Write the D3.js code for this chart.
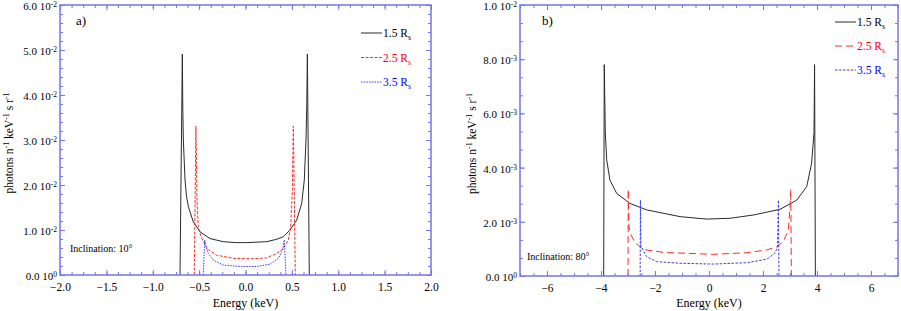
<!DOCTYPE html>
<html>
<head>
<meta charset="utf-8">
<script src="https://cdn.jsdelivr.net/npm/d3@7"></script>
<style>
  body { margin: 0; background: #fff; }
  text { font-family: "Liberation Serif", "DejaVu Serif", serif; }
</style>
</head>
<body>
<div id="chart"></div>
<script>
// panel a) inclination 10 deg : [energy keV, photons]
const a15 = [[-0.706, 0], [-0.681, 0.0491], [-0.676, 0.037], [-0.670, 0.030], [-0.652, 0.0211], [-0.636, 0.0175],
  [-0.616, 0.0152], [-0.563, 0.0118], [-0.491, 0.0096], [-0.383, 0.0081], [-0.239, 0.0074], [-0.100, 0.0072],
  [0.013, 0.0072], [0.228, 0.0074], [0.330, 0.0079], [0.408, 0.0085], [0.480, 0.0100], [0.552, 0.0122],
  [0.606, 0.0159], [0.634, 0.0211], [0.652, 0.030], [0.661, 0.038], [0.667, 0.0491], [0.688, 0]];
const a25 = [[-0.552, 0], [-0.535, 0.0331], [-0.522, 0.016], [-0.509, 0.0107], [-0.482, 0.0087], [-0.455, 0.0074],
  [-0.401, 0.0056], [-0.311, 0.0044], [-0.131, 0.0037], [0.049, 0.0036], [0.228, 0.0038], [0.336, 0.0048],
  [0.408, 0.0059], [0.462, 0.0078], [0.487, 0.0107], [0.505, 0.0189], [0.516, 0.0331], [0.537, 0]];
const a35 = [[-0.455, 0], [-0.440, 0.0078], [-0.425, 0.0062], [-0.401, 0.0048], [-0.347, 0.0033], [-0.239, 0.0022],
  [-0.059, 0.0019], [0.121, 0.0019], [0.264, 0.0024], [0.354, 0.0037], [0.401, 0.0056], [0.418, 0.0078], [0.437, 0]];

// panel b) inclination 80 deg
const b15 = [[-3.90, 0], [-3.88, 0.0078], [-3.84, 0.0053], [-3.79, 0.0043], [-3.67, 0.00354], [-3.42, 0.00305],
  [-2.93, 0.00268], [-2.31, 0.00244], [-1.07, 0.00219], [-0.09, 0.0021], [0.78, 0.00213], [1.64, 0.00225],
  [2.63, 0.00246], [3.25, 0.0028], [3.62, 0.0033], [3.80, 0.00416], [3.89, 0.0053], [3.91, 0.0078], [3.94, 0]];
const b25 = [[-3.00, 0], [-2.99, 0.0032], [-2.97, 0.0019], [-2.93, 0.0016], [-2.74, 0.00123], [-2.43, 0.00098],
  [-1.69, 0.00087], [0.16, 0.0008], [1.40, 0.00086], [2.14, 0.00096], [2.51, 0.00108], [2.75, 0.00127],
  [2.94, 0.0017], [3.00, 0.00256], [3.03, 0.0032], [3.05, 0]];
const b35 = [[-2.55, 0], [-2.54, 0.0028], [-2.52, 0.0011], [-2.31, 0.00071], [-1.94, 0.00053], [-1.07, 0.00047],
  [0.16, 0.00044], [1.40, 0.00049], [2.14, 0.00062], [2.44, 0.00084], [2.54, 0.00108], [2.57, 0.0028], [2.59, 0]];

const seriesNames = ["1.5 R", "2.5 R", "3.5 R"];

const aTicksX = [-2, -1.5, -1, -0.5, 0, 0.5, 1, 1.5, 2];
const aTicksY = [0, 0.01, 0.02, 0.03, 0.04, 0.05, 0.06];
const aLabelsY = [["0.0 10", "0"], ["1.0 10", "-2"], ["2.0 10", "-2"], ["3.0 10", "-2"], ["4.0 10", "-2"], ["5.0 10", "-2"], ["6.0 10", "-2"]];

const bTicksX = [-6, -4, -2, 0, 2, 4, 6];
const bTicksY = [0, 0.002, 0.004, 0.006, 0.008, 0.01];
const bLabelsY = [["0.0 10", "0"], ["2.0 10", "-3"], ["4.0 10", "-3"], ["6.0 10", "-3"], ["8.0 10", "-3"], ["1.0 10", "-2"]];

const frameColor = "#7474ee";
const serif = "'Liberation Serif', 'DejaVu Serif', serif";

const svg = d3.select("#chart").append("svg")
  .attr("width", 901)
  .attr("height", 311);

function drawPanel(p) {
  const x = d3.scaleLinear().domain(p.xDomain).range([p.left, p.right]);
  const y = d3.scaleLinear().domain(p.yDomain).range([p.bottom, p.top]);
  const g = svg.append("g");

  // curves
  const line = d3.line().x((d) => x(d[0])).y((d) => y(d[1]));
  p.series.forEach((s) => {
    g.append("path")
      .attr("d", line(s.data))
      .attr("fill", "none")
      .attr("stroke", s.color)
      .attr("stroke-width", 1)
      .attr("stroke-dasharray", s.dash);
  });

  // ticks on all 4 sides, pointing inwards
  const axes = [
    [d3.axisBottom(x), p.xTicks, p.xMinor, `translate(0,${p.bottom})`],
    [d3.axisTop(x), p.xTicks, p.xMinor, `translate(0,${p.top})`],
    [d3.axisLeft(y), p.yTicks, p.yMinor, `translate(${p.left},0)`],
    [d3.axisRight(y), p.yTicks, p.yMinor, `translate(${p.right},0)`]
  ];
  axes.forEach(([ax, major, minor, tr]) => {
    g.append("g").attr("transform", tr).attr("color", frameColor)
      .call(ax.tickValues(minor).tickSize(-3).tickSizeOuter(0).tickFormat(""))
      .call((a) => a.select(".domain").remove());
    g.append("g").attr("transform", tr).attr("color", frameColor)
      .call(ax.tickValues(major).tickSize(-5).tickSizeOuter(0).tickFormat(""))
      .call((a) => a.select(".domain").remove());
  });

  // frame
  g.append("rect")
    .attr("x", p.left).attr("y", p.top)
    .attr("width", p.right - p.left).attr("height", p.bottom - p.top)
    .attr("fill", "none")
    .attr("stroke", frameColor)
    .attr("stroke-width", 1.5);

  // x tick labels
  const xLab = g.append("g")
    .attr("transform", `translate(0,${p.bottom})`)
    .call(d3.axisBottom(x).tickValues(p.xTicks).tickSize(0).tickPadding(8).tickFormat(p.xFmt));
  xLab.select(".domain").remove();
  xLab.selectAll("text")
    .style("font-family", serif)
    .attr("font-size", 11.5)
    .attr("fill", "#000");

  // y tick labels with exponent
  const yLab = g.append("g")
    .attr("transform", `translate(${p.left},0)`)
    .call(d3.axisLeft(y).tickValues(p.yTicks).tickSize(0).tickPadding(3).tickFormat(""));
  yLab.select(".domain").remove();
  yLab.selectAll("text")
    .style("font-family", serif)
    .attr("font-size", 11)
    .attr("fill", "#000")
    .attr("dy", "0.4em")
    .each(function (d, i) {
      const t = d3.select(this);
      t.append("tspan").text(p.yLabels[i][0]);
      t.append("tspan").attr("dy", -3).attr("font-size", 7.5).text(p.yLabels[i][1]);
    });

  // axis titles
  g.append("text")
    .attr("x", (p.left + p.right) / 2)
    .attr("y", 307)
    .attr("text-anchor", "middle")
    .attr("font-size", 12)
    .text("Energy (keV)");

  const yt = g.append("text")
    .attr("transform", `translate(${p.yTitleX},${(p.top + p.bottom) / 2 + 3}) rotate(-90)`)
    .attr("text-anchor", "middle")
    .attr("font-size", 11.5);
  yt.append("tspan").text("photons n");
  yt.append("tspan").attr("dy", -4).attr("font-size", 8).text("-1");
  yt.append("tspan").attr("dy", 4).text(" keV");
  yt.append("tspan").attr("dy", -4).attr("font-size", 8).text("-1");
  yt.append("tspan").attr("dy", 4).text(" s r");
  yt.append("tspan").attr("dy", -4).attr("font-size", 8).text("-1");

  // panel label + inclination
  g.append("text")
    .attr("x", p.left + p.tagDx).attr("y", p.top + 20)
    .attr("font-size", 13)
    .text(p.tag);
  g.append("text")
    .attr("x", p.left + p.incDx).attr("y", p.incY)
    .attr("font-size", 10)
    .text(p.inclination);

  // legend
  p.series.forEach((s, i) => {
    const ly = p.legendY + i * p.legendGap;
    g.append("line")
      .attr("x1", p.legendX).attr("x2", p.legendX + 21)
      .attr("y1", ly).attr("y2", ly)
      .attr("stroke", s.color)
      .attr("stroke-dasharray", s.dash);
    const t = g.append("text")
      .attr("x", p.legendX + 22).attr("y", ly + 4)
      .attr("font-size", 11.5)
      .attr("fill", s.textColor);
    t.append("tspan").text(seriesNames[i]);
    t.append("tspan").attr("dy", 3).attr("font-size", 8).text("s");
  });
}

drawPanel({
  left: 60, right: 431, top: 5, bottom: 275,
  xDomain: [-2, 2], yDomain: [0, 0.06],
  xTicks: aTicksX, xMinor: d3.range(-2, 2.001, 0.125),
  yTicks: aTicksY, yMinor: d3.range(0, 0.0601, 0.002),
  xFmt: d3.format(".1f"), yLabels: aLabelsY,
  yTitleX: 13, tag: "a)", tagDx: 16,
  inclination: "Inclination: 10°", incDx: 10, incY: 252,
  legendX: 361, legendY: 33, legendGap: 24.5,
  series: [
    { data: a15, color: "#2a2a2a", textColor: "#000", dash: null },
    { data: a25, color: "#ff2a2a", textColor: "#ff0000", dash: "3,1.5" },
    { data: a35, color: "#3a3aff", textColor: "#0000ff", dash: "1.5,1.2" }
  ]
});

drawPanel({
  left: 520, right: 898, top: 5, bottom: 276,
  xDomain: [-7, 7], yDomain: [0, 0.01],
  xTicks: bTicksX, xMinor: d3.range(-7, 7.001, 0.5),
  yTicks: bTicksY, yMinor: d3.range(0, 0.01001, 0.002 / 3),
  xFmt: d3.format("d"), yLabels: bLabelsY,
  yTitleX: 476, tag: "b)", tagDx: 22,
  inclination: "Inclination: 80°", incDx: 7, incY: 260,
  legendX: 835, legendY: 22, legendGap: 24,
  series: [
    { data: b15, color: "#2a2a2a", textColor: "#000", dash: null },
    { data: b25, color: "#ff2a2a", textColor: "#ff0000", dash: "7,4" },
    { data: b35, color: "#3a3aff", textColor: "#0000ff", dash: "2.5,1.5" }
  ]
});
</script>
</body>
</html>
